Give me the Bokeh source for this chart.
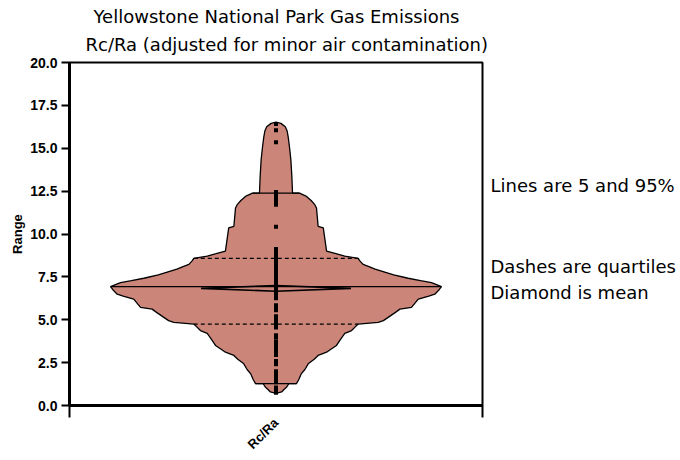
import math
import numpy as np
from bokeh.plotting import figure
from bokeh.models import Range1d, FixedTicker, PrintfTickFormatter, Title, LinearAxis
from bokeh.embed import file_html
from bokeh.resources import INLINE

# Violin outline: Rc/Ra value and density half-width (x units), top to bottom
outline_y = [16.52, 16.45, 16.25, 16.0, 15.67, 15.0, 14.32, 13.3, 12.39, 12.38,
             12.19, 11.95, 11.71, 11.52, 10.45, 10.36, 9.0, 8.85, 8.71, 8.58,
             8.45, 8.23, 8.10, 7.95, 7.84, 7.62, 7.42, 7.28, 7.17, 6.93,
             6.75, 6.49, 6.38, 6.2, 5.72, 5.62, 5.40, 5.14, 4.95, 4.85,
             4.75, 4.60, 4.37, 4.21, 3.9, 3.5, 3.25, 3.11, 2.92, 2.70,
             2.43, 2.10, 1.86, 1.5, 1.28, 1.27, 1.08, 0.95, 0.79, 0.70]
outline_hw = [0.0, 0.024, 0.045, 0.054, 0.059, 0.066, 0.072, 0.077, 0.080, 0.114,
              0.148, 0.170, 0.188, 0.196, 0.204, 0.229, 0.245, 0.290, 0.333, 0.398,
              0.405, 0.422, 0.450, 0.480, 0.511, 0.570, 0.640, 0.700, 0.753, 0.801,
              0.790, 0.769, 0.740, 0.689, 0.656, 0.600, 0.575, 0.543, 0.520, 0.495,
              0.398, 0.385, 0.366, 0.333, 0.315, 0.293, 0.262, 0.245, 0.204, 0.185,
              0.156, 0.140, 0.123, 0.110, 0.099, 0.062, 0.052, 0.040, 0.027, 0.0]

# Individual measurements
samples = [16.42, 16.05, 15.35,
           12.45, 12.3, 12.15, 12.0, 11.85, 11.7,
           10.42,
           9.12, 8.95, 8.8, 8.65, 8.5, 8.35, 8.2, 8.05, 7.9, 7.75, 7.6, 7.45,
           7.3, 7.15, 7.0, 6.85, 6.7, 6.55, 6.4, 6.25,
           5.85, 5.7, 5.55,
           5.2, 5.05, 4.85, 4.7, 4.55,
           4.1, 3.95,
           3.7, 3.55, 3.4, 3.25, 3.1, 2.95,
           2.6, 2.4,
           2.0, 1.8,
           1.65, 1.5, 1.35,
           1.05, 0.9, 0.75]

# Summary statistics
p05, q1, median, q3, p95 = 1.28, 4.75, 6.93, 8.58, 12.38
mean, mean_lo, mean_hi = 6.83, 6.66, 7.0

category = "Rc/Ra"
y_ticks = [0.0, 2.5, 5.0, 7.5, 10.0, 12.5, 15.0, 17.5, 20.0]
title_lines = ["Yellowstone National Park Gas Emissions",
               "Rc/Ra (adjusted for minor air contamination)"]
notes = ["Lines are 5 and 95%", "Dashes are quartiles", "Diamond is mean"]
note_levels = [12.8, 8.1, 6.6]

FILL = "#CC8579"
TEXT_FONT = "DejaVu Sans"
AXIS_FONT = "Liberation Sans"

p = figure(width=680, height=460, output_backend="svg", toolbar_location=None,
           x_range=Range1d(-1, 1), y_range=Range1d(0, 20),
           min_border_left=69, min_border_right=198,
           min_border_top=62, min_border_bottom=53,
           background_fill_color="white", border_fill_color="white")
p.grid.visible = False
p.outline_line_color = "black"
p.outline_line_width = 2

# violin body
ys = np.array(outline_y)
hw = np.array(outline_hw)
px = np.concatenate([-hw, hw[::-1]])
py = np.concatenate([ys, ys[::-1]])
p.patch(px, py, fill_color=FILL, line_color="black", line_width=1.3)

# percentile / quartile / median lines spanning the body
asc_y = ys[::-1]
asc_hw = hw[::-1]
def half_width(v):
    return float(np.interp(v, asc_y, asc_hw))

for v in (p05, p95, median):
    w = half_width(v)
    p.line([-w, w], [v, v], line_color="black", line_width=1.2)
for v in (q1, q3):
    w = half_width(v)
    p.line([-w, w], [v, v], line_color="black", line_width=1.2, line_dash="4 3")

# mean diamond
dw = 0.363
p.patch([-dw, 0, dw, 0], [mean, mean_hi, mean, mean_lo],
        fill_color=None, line_color="black", line_width=1.6)

# measurement points as small squares
p.rect(x=[0] * len(samples), y=samples, width=4, height=4,
       width_units="screen", height_units="screen",
       fill_color="black", line_color=None)

# axes
p.yaxis.ticker = FixedTicker(ticks=y_ticks)
p.yaxis.formatter = PrintfTickFormatter(format="%.1f")
p.yaxis.axis_label = "Range"
p.yaxis.axis_label_text_font = AXIS_FONT
p.yaxis.axis_label_text_font_style = "bold"
p.yaxis.axis_label_text_font_size = "13px"
p.yaxis.axis_label_text_color = "black"
p.yaxis.axis_label_standoff = 2
p.yaxis.major_label_text_font = AXIS_FONT
p.yaxis.major_label_text_font_style = "bold"
p.yaxis.major_label_text_font_size = "14px"
p.yaxis.major_label_text_color = "black"
p.yaxis.major_tick_in = 0
p.yaxis.major_tick_out = 8
p.yaxis.major_tick_line_width = 2
p.yaxis.minor_tick_line_color = None
p.yaxis.axis_line_width = 3
p.yaxis.major_label_standoff = 4

p.xaxis.ticker = FixedTicker(ticks=[0], minor_ticks=[-1, 1])
p.xaxis.major_label_overrides = {0: category}
p.xaxis.major_label_orientation = math.pi / 4
p.xaxis.major_label_text_font = AXIS_FONT
p.xaxis.major_label_text_font_style = "bold"
p.xaxis.major_label_text_font_size = "13px"
p.xaxis.major_label_text_color = "black"
p.xaxis.major_tick_in = 0
p.xaxis.major_tick_out = 0
p.xaxis.minor_tick_in = 0
p.xaxis.minor_tick_out = 12
p.xaxis.minor_tick_line_width = 2
p.xaxis.minor_tick_line_color = "black"
p.xaxis.axis_line_width = 3
p.xaxis.major_label_standoff = 3

# notes on the right, drawn as labels of a bare axis
p.extra_y_ranges = {"notes": Range1d(0, 20)}
note_axis = LinearAxis(y_range_name="notes", ticker=FixedTicker(ticks=note_levels),
                       major_label_overrides=dict(zip(note_levels, notes)),
                       axis_line_color=None, major_tick_line_color=None,
                       major_tick_out=0, major_tick_in=0,
                       minor_tick_line_color=None, major_label_standoff=8,
                       major_label_text_font=TEXT_FONT, major_label_text_font_size="18px",
                       major_label_text_color="black")
p.add_layout(note_axis, "right")

# two-line title (first added sits closest to the frame)
p.add_layout(Title(text=title_lines[1], align="left", offset=16, standoff=16,
                   text_font=TEXT_FONT, text_font_size="18px", text_font_style="normal",
                   text_color="black"), "above")
p.add_layout(Title(text=title_lines[0], align="left", offset=24, standoff=-6,
                   text_font=TEXT_FONT, text_font_size="18px", text_font_style="normal",
                   text_color="black"), "above")

open("out.html", "w").write(file_html(p, INLINE))
